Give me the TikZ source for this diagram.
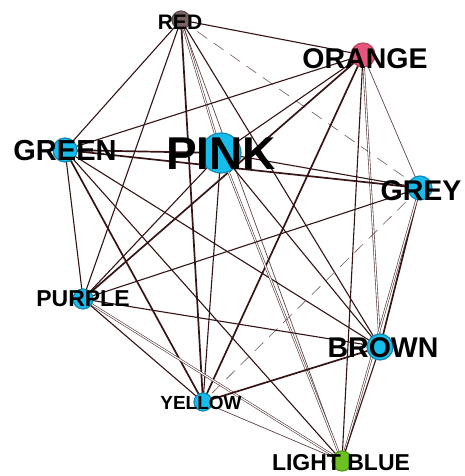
\documentclass[tikz,border=0pt]{standalone}
\usepackage{fontspec}
\setmainfont{Liberation Sans}
\usetikzlibrary{backgrounds}
\definecolor{edgecol}{HTML}{361414}
\definecolor{bluenode}{HTML}{16BCEC}
\definecolor{blueedge}{HTML}{1788B0}
\definecolor{rednode}{HTML}{7A6262}
\definecolor{orangenode}{HTML}{E8557C}
\definecolor{lightbluenode}{HTML}{6CC020}
\tikzset{
  vtx/.style={circle, inner sep=0pt, minimum size=#1, draw=blueedge, line width=1.2pt, fill=bluenode},
  lbl/.style={inner sep=0pt, font=\bfseries\fontsize{#1}{#1}\selectfont, text=black},
  link/.style={draw=edgecol, line width=1.1pt},
  heavy/.style={draw=edgecol, line width=1.7pt},
  light/.style={draw=edgecol!80, line width=0.7pt},
  twin/.style={draw=edgecol!85, double=white, double distance=1.1pt, line width=0.6pt},
  faint/.style={draw=edgecol!70, line width=0.6pt, dash pattern=on 12pt off 8pt},
}
\begin{document}
\begin{tikzpicture}[x=1pt, y=-1pt]
\useasboundingbox (0,0) rectangle (465,476);

% vertices
\node[vtx=18pt, fill=rednode, draw=rednode!80!black] (red) at (181,20) {};
\node[vtx=24pt, fill=orangenode, draw=orangenode!80!black] (orange) at (363,55) {};
\node[vtx=40pt] (pink) at (221,153) {};
\node[vtx=24pt] (green) at (65,150) {};
\node[vtx=24pt] (grey) at (420,188) {};
\node[vtx=20pt] (purple) at (83,299) {};
\node[vtx=26pt] (brown) at (380,347) {};
\node[vtx=18pt] (yellow) at (203,402) {};
\node[vtx=20pt, fill=lightbluenode, draw=lightbluenode!80!black] (lightblue) at (342,461) {};

% edges behind the vertices
\begin{scope}[on background layer]
\fill[white] (0,0) rectangle (465,476);
\draw[link]  (red.center) -- (green.center);
\draw[link]  (red.center) -- (orange.center);
\draw[twin]  (red.center) -- (pink.center);
\draw[link]  (red.center) -- (purple.center);
\draw[heavy] (red.center) -- (yellow.center);
\draw[link]  (red.center) -- (brown.center);
\draw[light] (red.center) -- (lightblue.center);
\draw[faint] (red.center) -- (grey.center);
\draw[link]  (orange.center) -- (green.center);
\draw[link]  (orange.center) -- (pink.center);
\draw[light] (orange.center) -- (grey.center);
\draw[heavy] (orange.center) -- (purple.center);
\draw[heavy] (orange.center) -- (yellow.center);
\draw[twin]  (orange.center) -- (brown.center);
\draw[link]  (orange.center) -- (lightblue.center);
\draw[heavy] (green.center) -- (pink.center);
\draw[heavy] (green.center) -- (grey.center);
\draw[link]  (green.center) -- (purple.center);
\draw[heavy] (green.center) -- (yellow.center);
\draw[link]  (green.center) -- (brown.center);
\draw[link]  (green.center) -- (lightblue.center);
\draw[link]  (pink.center) -- (grey.center);
\draw[link]  (pink.center) -- (purple.center);
\draw[link]  (pink.center) -- (yellow.center);
\draw[link]  (pink.center) -- (brown.center);
\draw[twin]  (pink.center) -- (lightblue.center);
\draw[link]  (grey.center) -- (purple.center);
\draw[faint] (grey.center) -- (yellow.center);
\draw[heavy] (grey.center) -- (brown.center);
\draw[twin]  (grey.center) -- (lightblue.center);
\draw[link]  (purple.center) -- (yellow.center);
\draw[link]  (purple.center) -- (brown.center);
\draw[twin]  (purple.center) -- (lightblue.center);
\draw[heavy] (yellow.center) -- (brown.center);
\draw[light] (yellow.center) -- (lightblue.center);
\draw[link]  (brown.center) -- (lightblue.center);
\end{scope}

% labels over the vertices
\node[lbl=21] (tred) at (180,22) {RED};
\node[lbl=28.5] (torange) at (365,59) {ORANGE};
\node[lbl=46] (tpink) at (221,154) {PINK};
\node[lbl=29] (tgreen) at (65,151) {GREEN};
\node[lbl=28.5] (tgrey) at (421,191) {GREY};
\node[lbl=23] (tpurple) at (83,299) {PURPLE};
\node[lbl=28.5] (tbrown) at (383,348) {BROWN};
\node[lbl=19] (tyellow) at (201,403) {YELLOW};
\node[lbl=23] (tlightblue) at (341,463) {LIGHT BLUE};
\end{tikzpicture}
\end{document}
